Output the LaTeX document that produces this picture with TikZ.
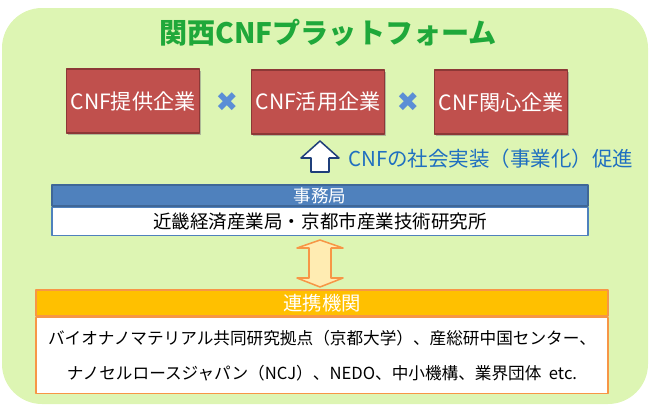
\documentclass[tikz,border=0pt]{standalone}
\usepackage{fontspec}
\setmainfont{Noto Sans CJK JP}
\newfontfamily\symfont{DejaVu Sans}
\usetikzlibrary{shapes,positioning,calc,arrows,shadows}
\definecolor{bggreen}{HTML}{DDF5B3}
\definecolor{titlegreen}{HTML}{1FA83A}
\definecolor{compred}{HTML}{C0504D}
\definecolor{compedge}{HTML}{8C3836}
\definecolor{crossblue}{HTML}{5B8ED6}
\definecolor{offblue}{HTML}{4F81BD}
\definecolor{arrowblue}{HTML}{1F3F7A}
\definecolor{textblue}{HTML}{1F6FC0}
\definecolor{partyellow}{HTML}{FFC000}
\definecolor{partorange}{HTML}{F79646}
\begin{document}
\begin{tikzpicture}[x=0.03cm,y=-0.03cm,line join=round]
	\tikzstyle{comp_box}=[draw=compedge, line width=1.6pt, fill=compred, minimum width=133*0.03cm, minimum height=64*0.03cm, text=white, font=\fontsize{18}{20}\selectfont, inner sep=1pt, drop shadow={shadow xshift=1.5pt,shadow yshift=-1.5pt,fill=black!50}];
	\tikzstyle{cross_mark}=[text=crossblue, font=\symfont\fontsize{23}{23}\selectfont];
	\tikzstyle{head_bar}=[draw, line width=1.2pt, text=white, font=\fontsize{15}{16}\selectfont, inner sep=0pt];
	\tikzstyle{body_box}=[draw, line width=1.2pt, fill=white, align=center, inner sep=0pt];
	
	\useasboundingbox (0,0) rectangle (652,408);
	\fill[bggreen, rounded corners=40*0.03cm] (2,8) rectangle (648,404);
	\node[text=titlegreen, font=\fontsize{24}{25}\selectfont\bfseries] (title) at (328,33) {関西CNFプラットフォーム};
	
	\node[comp_box] (c1) at (133,101) {CNF提供企業};
	\node[comp_box] (c2) at (318,102) {CNF活用企業};
	\node[comp_box] (c3) at (501,102) {CNF関心企業};
	\node[cross_mark] (x1) at (227,102) {✖};
	\node[cross_mark] (x2) at (408,102) {✖};
	
	% up arrow
	\draw[arrowblue, line width=1.3pt, fill=white] (311,172) -- (311,158) -- (301,158) -- (320,141) -- (339,158) -- (329,158) -- (329,172) -- cycle;
	\node[text=textblue, font=\fontsize{17.5}{19}\selectfont, anchor=west] (goal) at (344,159) {CNFの社会実装（事業化）促進};
	
	% office
	\node[head_bar, draw=offblue!80!black, fill=offblue, minimum width=536*0.03cm, minimum height=21*0.03cm] (off) at (320,195.5) {事務局};
	\node[body_box, draw=offblue, minimum width=536*0.03cm, minimum height=28*0.03cm, font=\fontsize{15.8}{17}\selectfont, below=0pt of off] (offb) {近畿経済産業局・京都市産業技術研究所};
	
	% double arrow
	\draw[partorange, line width=1.3pt, fill=partyellow!30!white] (309,248) -- (297,248) -- (320,240) -- (343,248) -- (331,248) -- (331,278) -- (343,278) -- (320,287) -- (297,278) -- (309,278) -- cycle;
	
	% partners
	\node[head_bar, draw=partorange, fill=partyellow, minimum width=572*0.03cm, minimum height=26*0.03cm, font=\fontsize{16.5}{17}\selectfont] (part) at (322,303) {連携機関};
	\node[body_box, draw=partorange, minimum width=572*0.03cm, minimum height=76*0.03cm, font=\fontsize{14.2}{30}\selectfont, below=0pt of part] (partb) {バイオナノマテリアル共同研究拠点（京都大学）、産総研中国センター、\\ナノセルロースジャパン（NCJ）、NEDO、中小機構、業界団体\ \ etc.};
\end{tikzpicture}
\end{document}
